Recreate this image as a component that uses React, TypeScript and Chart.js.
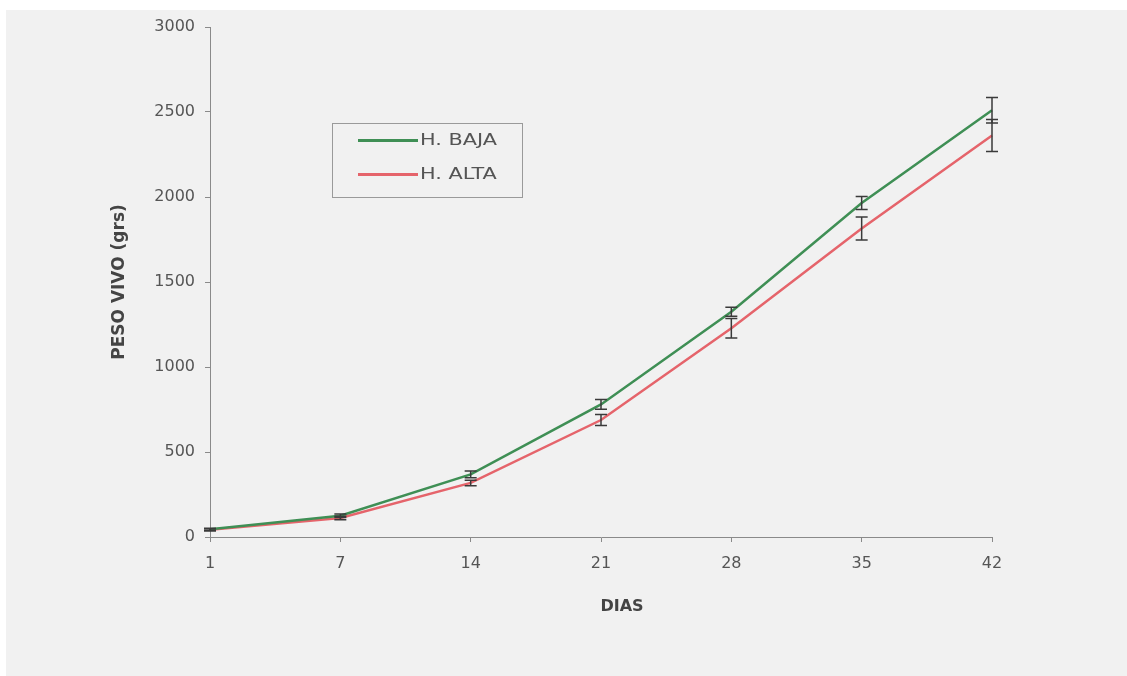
import React, { useEffect, useRef } from 'react';
import { Chart, registerables } from 'chart.js';

Chart.register(...registerables);

// ---- data ----
const days = ['1', '7', '14', '21', '28', '35', '42'];
const seriesNames = ['H. BAJA', 'H. ALTA'];
const bajaValues = [45, 125, 368, 780, 1325, 1965, 2510];
const altaValues = [42, 112, 318, 688, 1228, 1815, 2362];
const bajaErrors = [6, 10, 20, 29, 27, 38, 75];
const altaErrors = [6, 10, 16, 32, 58, 68, 94];
const seriesColors = ['#3f8f55', '#e5646b'];
const yMin = 0;
const yMax = 3000;
const yStep = 500;
const yTitle = 'PESO VIVO (grs)';
const xTitle = 'DIAS';

const FONT = '"DejaVu Sans", "Liberation Sans", Arial, sans-serif';

const errorsBySeries = [bajaErrors, altaErrors];

const backgroundPlugin = {
  id: 'bg',
  beforeDraw(chart: any) {
    const { ctx, width, height } = chart;
    ctx.save();
    ctx.fillStyle = '#ffffff';
    ctx.fillRect(0, 0, width, height);
    ctx.fillStyle = '#f1f1f1';
    ctx.fillRect(6, 10, width - 6, height - 10);
    ctx.restore();
  },
};

const errorBarPlugin = {
  id: 'errorBars',
  afterDatasetsDraw(chart: any) {
    const { ctx } = chart;
    const yScale = chart.scales.y;
    ctx.save();
    ctx.strokeStyle = '#3a3a3a';
    ctx.lineWidth = 1.5;
    chart.data.datasets.forEach((ds: any, i: number) => {
      const meta = chart.getDatasetMeta(i);
      const errs = errorsBySeries[i];
      meta.data.forEach((pt: any, j: number) => {
        const v = ds.data[j];
        const e = errs[j];
        const x = pt.x;
        const yTop = yScale.getPixelForValue(v + e);
        const yBot = yScale.getPixelForValue(v - e);
        const cap = 6;
        ctx.beginPath();
        ctx.moveTo(x, yTop);
        ctx.lineTo(x, yBot);
        ctx.moveTo(x - cap, yTop);
        ctx.lineTo(x + cap, yTop);
        ctx.moveTo(x - cap, yBot);
        ctx.lineTo(x + cap, yBot);
        ctx.stroke();
      });
    });
    ctx.restore();
  },
};

const xTitlePlugin = {
  id: 'xTitle',
  afterDraw(chart: any) {
    const { ctx, chartArea } = chart;
    ctx.save();
    ctx.font = `bold 16px ${FONT}`;
    ctx.fillStyle = '#444444';
    ctx.textAlign = 'center';
    ctx.textBaseline = 'middle';
    ctx.fillText(xTitle, (chartArea.left + chartArea.right) / 2 + 21, chartArea.bottom + 70);
    ctx.restore();
  },
};

export default function App() {
  const canvasRef = useRef<HTMLCanvasElement | null>(null);

  useEffect(() => {
    if (!canvasRef.current) return;
    const chart = new Chart(canvasRef.current, {
      type: 'line',
      data: {
        labels: days,
        datasets: [
          {
            label: seriesNames[0],
            data: bajaValues,
            borderColor: seriesColors[0],
            backgroundColor: seriesColors[0],
            borderWidth: 2.5,
            pointRadius: 0,
            tension: 0,
            fill: false,
          },
          {
            label: seriesNames[1],
            data: altaValues,
            borderColor: seriesColors[1],
            backgroundColor: seriesColors[1],
            borderWidth: 2.5,
            pointRadius: 0,
            tension: 0,
            fill: false,
          },
        ],
      },
      options: {
        responsive: false,
        animation: false,
        devicePixelRatio: 1,
        layout: { padding: { left: 100, top: 27, right: 135, bottom: 0 } },
        plugins: {
          legend: { display: false },
          tooltip: { enabled: false },
        },
        scales: {
          x: {
            type: 'category',
            offset: false,
            grid: {
              display: true,
              drawOnChartArea: false,
              drawTicks: true,
              tickLength: 5,
              color: '#8a8a8a',
            },
            border: { color: '#8a8a8a', width: 1 },
            ticks: {
              color: '#555555',
              font: { family: FONT, size: 16 },
              padding: 12,
              maxRotation: 0,
              autoSkip: false,
            },
            afterFit: (s: any) => {
              s.height = 139;
            },
          },
          y: {
            min: yMin,
            max: yMax,
            grid: {
              display: true,
              drawOnChartArea: false,
              drawTicks: true,
              tickLength: 5,
              color: '#8a8a8a',
            },
            border: { color: '#8a8a8a', width: 1 },
            ticks: {
              stepSize: yStep,
              color: '#555555',
              font: { family: FONT, size: 16 },
              padding: 10,
              callback: (v: any) => String(v),
            },
            title: {
              display: true,
              text: yTitle,
              color: '#444444',
              font: { family: FONT, size: 17, weight: 'bold' },
              padding: { top: 9, bottom: 0 },
            },
            afterFit: (s: any) => {
              s.width = 110;
            },
          },
        },
      } as any,
      plugins: [backgroundPlugin, errorBarPlugin, xTitlePlugin],
    });
    return () => chart.destroy();
  }, []);

  const legendRows = seriesNames.map((name, i) => (
    <div
      key={name}
      style={{
        position: 'absolute',
        left: 0,
        top: i === 0 ? 16 : 50,
        height: 0,
        width: '100%',
      }}
    >
      <div
        style={{
          position: 'absolute',
          left: 25,
          top: -1.5,
          width: 60,
          height: 3,
          background: seriesColors[i],
        }}
      />
      <span
        style={{
          position: 'absolute',
          left: 87,
          top: -10,
          lineHeight: '20px',
          fontFamily: FONT,
          fontSize: 16,
          color: '#555555',
          whiteSpace: 'nowrap',
          transform: 'scaleX(1.3)',
          transformOrigin: 'left center',
        }}
      >
        {name}
      </span>
    </div>
  ));

  return (
    <div style={{ position: 'fixed', left: 0, top: 0, width: 1127, height: 676, overflow: 'hidden' }}>
      <canvas ref={canvasRef} width={1127} height={676} style={{ display: 'block', width: 1127, height: 676 }} />
      <div
        style={{
          position: 'absolute',
          left: 332,
          top: 123,
          width: 189,
          height: 73,
          border: '1px solid #9a9a9a',
          boxSizing: 'content-box',
        }}
      >
        {legendRows}
      </div>
    </div>
  );
}
